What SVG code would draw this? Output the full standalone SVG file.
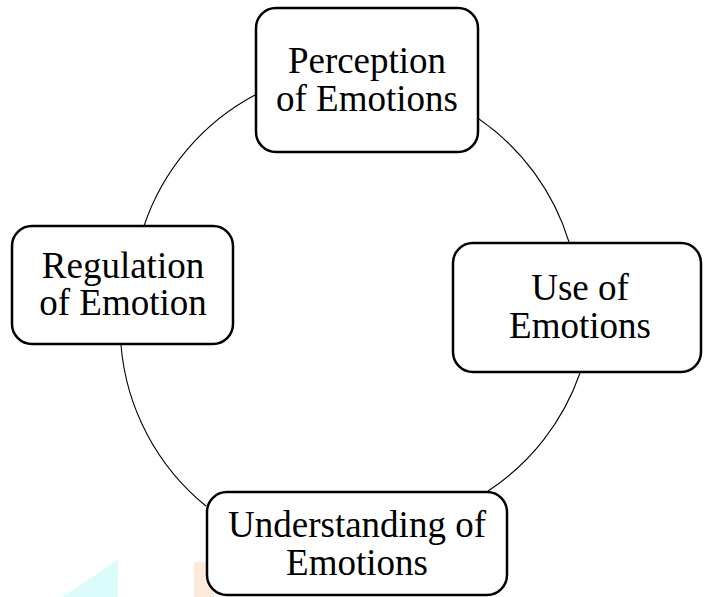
<svg xmlns="http://www.w3.org/2000/svg" width="704" height="597" viewBox="0 0 704 597">
<style>
.box{fill:#ffffff;stroke:#000000;stroke-width:2.5}
.lbl{font-family:"Liberation Serif","Times New Roman",serif;font-size:37px;fill:#000000;text-anchor:middle}
.arc{fill:none;stroke:#000000;stroke-width:1.1}
</style>
<rect width="704" height="597" fill="#ffffff"/>
<g id="watermark">
<polygon points="62,597 118,560 118,597" fill="#dcfcfc"/>
<rect x="194" y="562" width="20" height="35" fill="#fdeadb"/>
</g>
<g id="connectors">
<path class="arc" d="M144,226 A232,232 0 0 1 255,95"/>
<path class="arc" d="M479,119 A232,232 0 0 1 569,242"/>
<path class="arc" d="M580,373 A232,232 0 0 1 488,491"/>
<path class="arc" d="M206,506 A232,232 0 0 1 121,345"/>
</g>
<g id="node-perception">
<rect class="box" x="256" y="8" width="222" height="144" rx="20"/>
<text class="lbl" x="367" y="73">Perception</text>
<text class="lbl" x="367" y="111">of Emotions</text>
</g>
<g id="node-use">
<rect class="box" x="453" y="243" width="248" height="129" rx="20"/>
<text class="lbl" x="580" y="300">Use of</text>
<text class="lbl" x="580" y="338">Emotions</text>
</g>
<g id="node-understanding">
<rect class="box" x="207" y="492" width="300" height="103" rx="20"/>
<text class="lbl" x="357" y="537">Understanding of</text>
<text class="lbl" x="357" y="575">Emotions</text>
</g>
<g id="node-regulation">
<rect class="box" x="12" y="226" width="221" height="118" rx="20"/>
<text class="lbl" x="123" y="278">Regulation</text>
<text class="lbl" x="123" y="315">of Emotion</text>
</g>
</svg>
